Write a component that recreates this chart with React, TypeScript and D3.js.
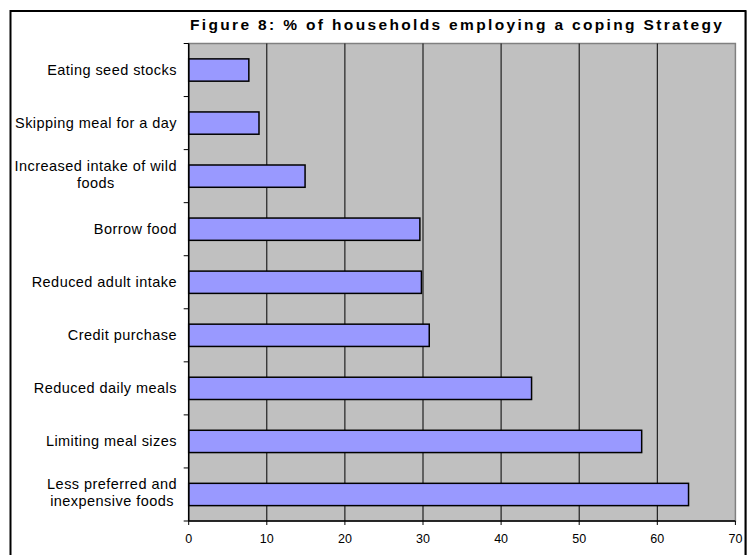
import React from "react";
import * as d3 from "d3";

const categories: string[][] = [
  ["Eating seed stocks"],
  ["Skipping meal for a day"],
  ["Increased intake of wild", "foods"],
  ["Borrow food"],
  ["Reduced adult intake"],
  ["Credit purchase"],
  ["Reduced daily meals"],
  ["Limiting meal sizes"],
  ["Less preferred and", "inexpensive foods"],
];
const values: number[] = [7.7, 9.0, 14.9, 29.6, 29.8, 30.8, 43.9, 58.0, 64.0];
const xTicks: number[] = [0, 10, 20, 30, 40, 50, 60, 70];
const title = "Figure 8: % of households employing a coping Strategy";

const W = 754;
const H = 555;
const plot = { left: 188.7, right: 735.4, top: 43.5, bottom: 521 };
const FONT = "Arial, 'Liberation Sans', Helvetica, sans-serif";
const LABEL_FS = 14.5;
const LABEL_LS = 0.45;

export default function App() {
  const keys = categories.map((c) => c.join(" "));
  const x = d3.scaleLinear().domain([0, 70]).range([plot.left, plot.right]);
  const y = d3.scaleBand<string>().domain(keys).range([plot.top, plot.bottom]).padding(0);
  const bw = y.bandwidth();
  const barH = bw * 0.42;
  const boundaries = d3.range(keys.length + 1).map((i) => plot.top + i * bw);
  const gref = React.useRef<SVGGElement>(null);

  React.useEffect(() => {
    const g = gref.current;
    if (!g) return;
    categories.forEach((lines, i) => {
      if (lines.length < 2) return;
      const nodes = Array.from(g.querySelectorAll<SVGTextElement>(".ml" + i));
      const widths = nodes.map((n) => n.getComputedTextLength());
      const maxW = Math.max(...widths);
      const cx = 176.5 - maxW / 2 + LABEL_LS;
      nodes.forEach((n) => n.setAttribute("x", String(cx)));
    });
  }, []);

  return (
    <svg
      width={W}
      height={H}
      style={{ position: "absolute", left: 0, top: 0, background: "#fff" }}
    >
      {/* plot area */}
      <rect
        x={plot.left}
        y={plot.top}
        width={plot.right - plot.left}
        height={plot.bottom - plot.top}
        fill="#C0C0C0"
        stroke="#808080"
        strokeWidth={1.5}
      />

      {/* gridlines */}
      {xTicks
        .filter((t) => t > 0 && t < 70)
        .map((t) => (
          <line
            key={"g" + t}
            x1={x(t)}
            x2={x(t)}
            y1={plot.top}
            y2={plot.bottom}
            stroke="#000"
            strokeWidth={1}
          />
        ))}

      {/* bars */}
      {keys.map((k, i) => {
        const cy = (y(k) as number) + bw / 2;
        return (
          <rect
            key={"b" + k}
            x={x(0)}
            y={cy - barH / 2}
            width={x(values[i]) - x(0)}
            height={barH}
            fill="#9999FF"
            stroke="#000"
            strokeWidth={1.5}
          />
        );
      })}

      {/* axes */}
      <line x1={plot.left} x2={plot.left} y1={plot.top} y2={plot.bottom} stroke="#000" strokeWidth={1.5} />
      <line x1={plot.left} x2={plot.right} y1={plot.bottom} y2={plot.bottom} stroke="#000" strokeWidth={1.5} />
      {boundaries.map((b, i) => (
        <line key={"yt" + i} x1={plot.left - 5} x2={plot.left} y1={b} y2={b} stroke="#000" strokeWidth={1} />
      ))}
      {xTicks.map((t) => (
        <line key={"xt" + t} x1={x(t)} x2={x(t)} y1={plot.bottom} y2={plot.bottom + 4} stroke="#000" strokeWidth={1} />
      ))}

      {/* x tick labels */}
      {xTicks.map((t) => (
        <text
          key={"xl" + t}
          x={x(t)}
          y={543}
          textAnchor="middle"
          fontFamily={FONT}
          fontSize={12.5}
          fill="#000"
        >
          {t}
        </text>
      ))}

      {/* category labels */}
      <g ref={gref}>
        {categories.map((lines, i) => {
          const cy = (y(keys[i]) as number) + bw / 2;
          if (lines.length === 1) {
            return (
              <text
                key={"cl" + i}
                x={176.5 + LABEL_LS}
                y={cy + 5}
                textAnchor="end"
                fontFamily={FONT}
                fontSize={LABEL_FS}
                letterSpacing={LABEL_LS}
                fill="#000"
              >
                {lines[0]}
              </text>
            );
          }
          return (
            <g key={"cl" + i}>
              {lines.map((ln, j) => (
                <text
                  key={j}
                  x={100}
                  y={cy - 5.5 + j * 17}
                  textAnchor="middle"
                  fontFamily={FONT}
                  fontSize={LABEL_FS}
                  letterSpacing={LABEL_LS}
                  fill="#000"
                  className={"ml" + i}
                >
                  {ln}
                </text>
              ))}
            </g>
          );
        })}
      </g>

      {/* outer frame (drawn last so it overlaps the clipped "70") */}
      <rect x={10.5} y={11} width={735} height={620} fill="none" stroke="#000" strokeWidth={2} />
      <line x1={745.8} y1={11} x2={745.8} y2={H} stroke="#000" strokeWidth={1} />

      {/* title */}
      <text
        x={190}
        y={30}
        textLength={532}
        lengthAdjust="spacing"
        fontFamily={FONT}
        fontWeight="bold"
        fontSize={15.5}
        fill="#000"
      >
        {title}
      </text>
    </svg>
  );
}
